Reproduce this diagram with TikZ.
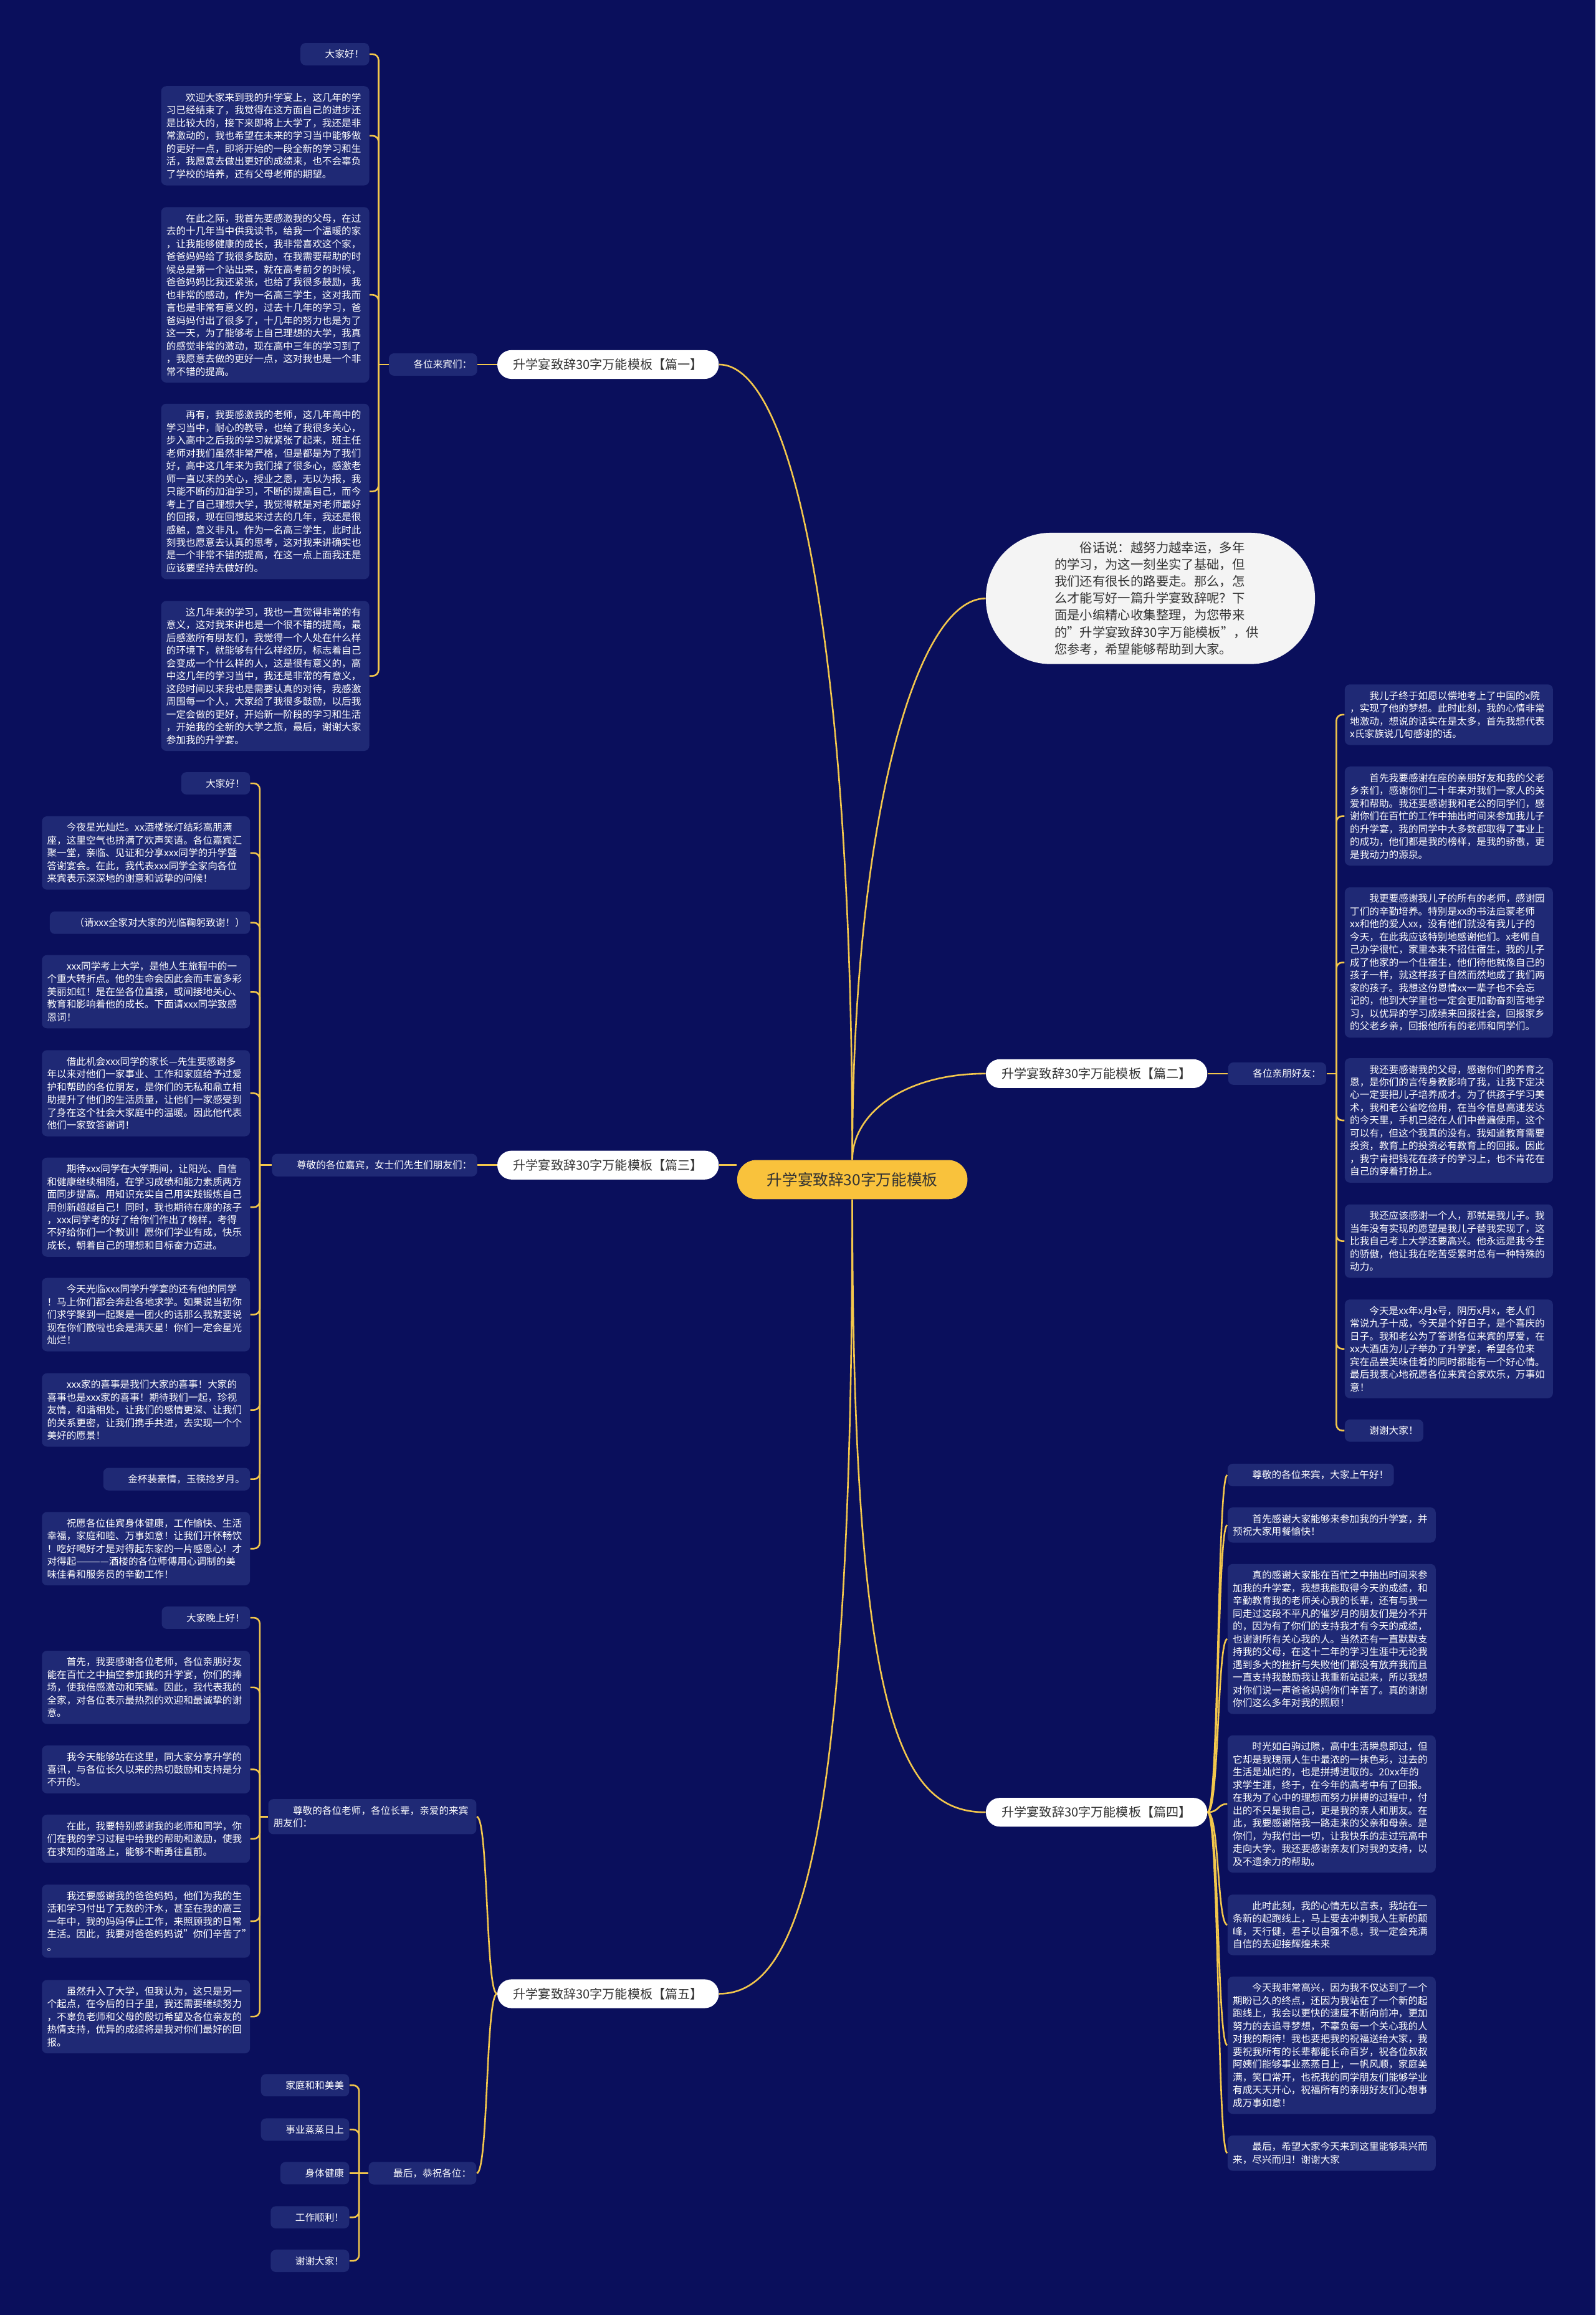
\documentclass[tikz,border=0pt]{standalone}
\usepackage{fontspec}
\setmainfont{Noto Sans CJK SC}
\usetikzlibrary{calc}
\definecolor{bgc}{HTML}{0A0F5C}
\definecolor{leafc}{HTML}{1F2975}
\definecolor{linec}{HTML}{F3C74C}
\definecolor{centc}{HTML}{F9C23C}
\definecolor{txtd}{HTML}{333333}
\definecolor{bubc}{HTML}{F4F4F4}
\pgfdeclarelayer{bglayer}
\pgfdeclarelayer{linelayer}
\pgfsetlayers{bglayer,linelayer,main}
\tikzset{
  leaf/.style={fill=leafc, text=white, rounded corners=3.5pt, inner xsep=3.5pt, inner ysep=4.5pt, font=\fontsize{6.6}{8.65}\selectfont, align=left},
  para/.style={leaf, text width=134pt},
  branch/.style={fill=white, text=txtd, rounded corners=9.5pt, minimum width=150pt, minimum height=19.5pt, inner sep=0pt, font=\fontsize{8.5}{10}\selectfont},
  cent/.style={fill=centc, text=txtd, rounded corners=13pt, minimum width=156pt, minimum height=26.5pt, inner sep=0pt, font=\fontsize{10.4}{12}\selectfont},
  bubble/.style={fill=bubc, text=txtd, rounded corners=44pt, minimum width=223pt, minimum height=89pt, text width=130pt, align=left, font=\fontsize{8.6}{11.45}\selectfont},
  conn/.style={draw=linec, line width=1.1pt},
  bracket/.style={conn, rounded corners=4pt},
}
\begin{document}
\begin{tikzpicture}[x=1pt,y=-1pt]
\useasboundingbox (0,0) rectangle (1081,1568.7);
\begin{pgfonlayer}{bglayer}
\fill[bgc] (0,0) rectangle (1081,1568.7);
\end{pgfonlayer}

% centre
\node[cent] (cen) at (577.5,799.3) {升学宴致辞30字万能模板};

% bubble
\node[bubble] (bub) at (779.5,405.5) {　　俗话说：越努力越幸运，多年\\的学习，为这一刻坐实了基础，但\\我们还有很长的路要走。那么，怎\\么才能写好一篇升学宴致辞呢？下\\面是小编精心收集整理，为您带来\\的"升学宴致辞30字万能模板"，供\\您参考，希望能够帮助到大家。};

% branches
\node[branch] (b1) at (412,247) {升学宴致辞30字万能模板【篇一】};
\node[branch] (b2) at (743,727.5) {升学宴致辞30字万能模板【篇二】};
\node[branch] (b3) at (412,789.5) {升学宴致辞30字万能模板【篇三】};
\node[branch] (b4) at (743,1228) {升学宴致辞30字万能模板【篇四】};
\node[branch] (b5) at (412,1351) {升学宴致辞30字万能模板【篇五】};

% ---------- branch 1
\node[leaf, anchor=east] (p1) at (323.5,247) {　　各位来宾们：};
\node[leaf, anchor=east] (l1a) at (250.4,36.7) {　　大家好！};
\node[para, anchor=east] (l1b) at (250.4,92) {　　欢迎大家来到我的升学宴上，这几年的学\\习已经结束了，我觉得在这方面自己的进步还\\是比较大的，接下来即将上大学了，我还是非\\常激动的，我也希望在未来的学习当中能够做\\的更好一点，即将开始的一段全新的学习和生\\活，我愿意去做出更好的成绩来，也不会辜负\\了学校的培养，还有父母老师的期望。};
\node[para, anchor=east] (l1c) at (250.4,199.8) {　　在此之际，我首先要感激我的父母，在过\\去的十几年当中供我读书，给我一个温暖的家\\，让我能够健康的成长，我非常喜欢这个家，\\爸爸妈妈给了我很多鼓励，在我需要帮助的时\\候总是第一个站出来，就在高考前夕的时候，\\爸爸妈妈比我还紧张，也给了我很多鼓励，我\\也非常的感动，作为一名高三学生，这对我而\\言也是非常有意义的，过去十几年的学习，爸\\爸妈妈付出了很多了，十几年的努力也是为了\\这一天，为了能够考上自己理想的大学，我真\\的感觉非常的激动，现在高中三年的学习到了\\，我愿意去做的更好一点，这对我也是一个非\\常不错的提高。};
\node[para, anchor=east] (l1d) at (250.4,333) {　　再有，我要感激我的老师，这几年高中的\\学习当中，耐心的教导，也给了我很多关心，\\步入高中之后我的学习就紧张了起来，班主任\\老师对我们虽然非常严格，但是都是为了我们\\好，高中这几年来为我们操了很多心，感激老\\师一直以来的关心，授业之恩，无以为报，我\\只能不断的加油学习，不断的提高自己，而今\\考上了自己理想大学，我觉得就是对老师最好\\的回报，现在回想起来过去的几年，我还是很\\感触，意义非凡，作为一名高三学生，此时此\\刻我也愿意去认真的思考，这对我来讲确实也\\是一个非常不错的提高，在这一点上面我还是\\应该要坚持去做好的。};
\node[para, anchor=east] (l1e) at (250.4,458) {　　这几年来的学习，我也一直觉得非常的有\\意义，这对我来讲也是一个很不错的提高，最\\后感激所有朋友们，我觉得一个人处在什么样\\的环境下，就能够有什么样经历，标志着自己\\会变成一个什么样的人，这是很有意义的，高\\中这几年的学习当中，我还是非常的有意义，\\这段时间以来我也是需要认真的对待，我感激\\周围每一个人，大家给了我很多鼓励，以后我\\一定会做的更好，开始新一阶段的学习和生活\\，开始我的全新的大学之旅，最后，谢谢大家\\参加我的升学宴。};

% ---------- branch 3
\node[leaf, anchor=east] (p3) at (323.5,789.5) {　　尊敬的各位嘉宾，女士们先生们朋友们：};
\node[leaf, anchor=east] (c3a) at (169.6,530.8) {　　大家好！};
\node[para, anchor=east] (c3b) at (169.6,578) {　　今夜星光灿烂。xx酒楼张灯结彩高朋满\\座，这里空气也挤满了欢声笑语。各位嘉宾汇\\聚一堂，亲临、见证和分享xxx同学的升学暨\\答谢宴会。在此，我代表xxx同学全家向各位\\来宾表示深深地的谢意和诚挚的问候！};
\node[leaf, anchor=east] (c3c) at (169.6,625.2) {　　（请xxx全家对大家的光临鞠躬致谢！）};
\node[para, anchor=east] (c3d) at (169.6,672) {　　xxx同学考上大学，是他人生旅程中的一\\个重大转折点。他的生命会因此会而丰富多彩\\美丽如虹！是在坐各位直接，或间接地关心、\\教育和影响着他的成长。下面请xxx同学致感\\恩词！};
\node[para, anchor=east] (c3e) at (169.6,740.8) {　　借此机会xxx同学的家长—先生要感谢多\\年以来对他们一家事业、工作和家庭给予过爱\\护和帮助的各位朋友，是你们的无私和鼎立相\\助提升了他们的生活质量，让他们一家感受到\\了身在这个社会大家庭中的温暖。因此他代表\\他们一家致答谢词！};
\node[para, anchor=east] (c3f) at (169.6,818) {　　期待xxx同学在大学期间，让阳光、自信\\和健康继续相随，在学习成绩和能力素质两方\\面同步提高。用知识充实自己用实践锻炼自己\\用创新超越自己！同时，我也期待在座的孩子\\，xxx同学考的好了给你们作出了榜样，考得\\不好给你们一个教训！愿你们学业有成，快乐\\成长，朝着自己的理想和目标奋力迈进。};
\node[para, anchor=east] (c3g) at (169.6,890.8) {　　今天光临xxx同学升学宴的还有他的同学\\！马上你们都会奔赴各地求学。如果说当初你\\们求学聚到一起聚是一团火的话那么我就要说\\现在你们散啦也会是满天星！你们一定会星光\\灿烂！};
\node[para, anchor=east] (c3h) at (169.6,955.4) {　　xxx家的喜事是我们大家的喜事！大家的\\喜事也是xxx家的喜事！期待我们一起，珍视\\友情，和谐相处，让我们的感情更深、让我们\\的关系更密，让我们携手共进，去实现一个个\\美好的愿景！};
\node[leaf, anchor=east] (c3i) at (169.6,1002.3) {　　金杯装豪情，玉筷捻岁月。};
\node[para, anchor=east] (c3j) at (169.6,1049.4) {　　祝愿各位佳宾身体健康，工作愉快、生活\\幸福，家庭和睦、万事如意！让我们开怀畅饮\\！吃好喝好才是对得起东家的一片感恩心！才\\对得起————酒楼的各位师傅用心调制的美\\味佳肴和服务员的辛勤工作！};

% ---------- branch 5
\node[para, anchor=east] (p5a) at (323,1231) {　　尊敬的各位老师，各位长辈，亲爱的来宾\\朋友们：};
\node[leaf, anchor=east] (p5b) at (323,1472.6) {　　最后，恭祝各位：};
\node[leaf, anchor=east] (c5a) at (169.6,1096.2) {　　大家晚上好！};
\node[para, anchor=east] (c5b) at (169.6,1143.4) {　　首先，我要感谢各位老师，各位亲朋好友\\能在百忙之中抽空参加我的升学宴，你们的捧\\场，使我倍感激动和荣耀。因此，我代表我的\\全家，对各位表示最热烈的欢迎和最诚挚的谢\\意。};
\node[para, anchor=east] (c5c) at (169.6,1199) {　　我今天能够站在这里，同大家分享升学的\\喜讯，与各位长久以来的热切鼓励和支持是分\\不开的。};
\node[para, anchor=east] (c5d) at (169.6,1246) {　　在此，我要特别感谢我的老师和同学，你\\们在我的学习过程中给我的帮助和激励，使我\\在求知的道路上，能够不断勇往直前。};
\node[para, anchor=east] (c5e) at (169.6,1301.8) {　　我还要感谢我的爸爸妈妈，他们为我的生\\活和学习付出了无数的汗水，甚至在我的高三\\一年中，我的妈妈停止工作，来照顾我的日常\\生活。因此，我要对爸爸妈妈说"你们辛苦了"\\。};
\node[para, anchor=east] (c5f) at (169.6,1366.5) {　　虽然升入了大学，但我认为，这只是另一\\个起点，在今后的日子里，我还需要继续努力\\，不辜负老师和父母的殷切希望及各位亲友的\\热情支持，优异的成绩将是我对你们最好的回\\报。};
\node[leaf, anchor=east] (g1) at (236.8,1413) {　　家庭和和美美};
\node[leaf, anchor=east] (g2) at (236.8,1443) {　　事业蒸蒸日上};
\node[leaf, anchor=east] (g3) at (236.8,1472.6) {　　身体健康};
\node[leaf, anchor=east] (g4) at (236.8,1502.5) {　　工作顺利！};
\node[leaf, anchor=east] (g5) at (236.8,1532) {　　谢谢大家！};

% ---------- branch 2
\node[leaf, anchor=west] (p2) at (832,727.5) {　　各位亲朋好友：};
\node[para, anchor=west] (e1) at (911,484.3) {　　我儿子终于如愿以偿地考上了中国的x院\\，实现了他的梦想。此时此刻，我的心情非常\\地激动，想说的话实在是太多，首先我想代表\\x氏家族说几句感谢的话。};
\node[para, anchor=west] (e2) at (911,553) {　　首先我要感谢在座的亲朋好友和我的父老\\乡亲们，感谢你们二十年来对我们一家人的关\\爱和帮助。我还要感谢我和老公的同学们，感\\谢你们在百忙的工作中抽出时间来参加我儿子\\的升学宴，我的同学中大多数都取得了事业上\\的成功，他们都是我的榜样，是我的骄傲，更\\是我动力的源泉。};
\node[para, anchor=west] (e3) at (911,652.2) {　　我更要感谢我儿子的所有的老师，感谢园\\丁们的辛勤培养。特别是xx的书法启蒙老师\\xx和他的爱人xx，没有他们就没有我儿子的\\今天，在此我应该特别地感谢他们。x老师自\\己办学很忙，家里本来不招住宿生，我的儿子\\成了他家的一个住宿生，他们待他就像自己的\\孩子一样，就这样孩子自然而然地成了我们两\\家的孩子。我想这份恩情xx一辈子也不会忘\\记的，他到大学里也一定会更加勤奋刻苦地学\\习，以优异的学习成绩来回报社会，回报家乡\\的父老乡亲，回报他所有的老师和同学们。};
\node[para, anchor=west] (e4) at (911,759.2) {　　我还要感谢我的父母，感谢你们的养育之\\恩，是你们的言传身教影响了我，让我下定决\\心一定要把儿子培养成才。为了供孩子学习美\\术，我和老公省吃俭用，在当今信息高速发达\\的今天里，手机已经在人们中普遍使用，这个\\可以有，但这个我真的没有。我知道教育需要\\投资，教育上的投资必有教育上的回报。因此\\，我宁肯把钱花在孩子的学习上，也不肯花在\\自己的穿着打扮上。};
\node[para, anchor=west] (e5) at (911,841) {　　我还应该感谢一个人，那就是我儿子。我\\当年没有实现的愿望是我儿子替我实现了，这\\比我自己考上大学还要高兴。他永远是我今生\\的骄傲，他让我在吃苦受累时总有一种特殊的\\动力。};
\node[para, anchor=west] (e6) at (911,914) {　　今天是xx年x月x号，阴历x月x，老人们\\常说九子十成，今天是个好日子，是个喜庆的\\日子。我和老公为了答谢各位来宾的厚爱，在\\xx大酒店为儿子举办了升学宴，希望各位来\\宾在品尝美味佳肴的同时都能有一个好心情。\\最后我衷心地祝愿各位来宾合家欢乐，万事如\\意！};
\node[leaf, anchor=west] (e7) at (911,969.4) {　　谢谢大家！};

% ---------- branch 4
\node[leaf, anchor=west] (d1) at (831.6,999.5) {　　尊敬的各位来宾，大家上午好！};
\node[para, anchor=west] (d2) at (831.6,1033.4) {　　首先感谢大家能够来参加我的升学宴，并\\预祝大家用餐愉快！};
\node[para, anchor=west] (d3) at (831.6,1110.6) {　　真的感谢大家能在百忙之中抽出时间来参\\加我的升学宴，我想我能取得今天的成绩，和\\辛勤教育我的老师关心我的长辈，还有与我一\\同走过这段不平凡的催岁月的朋友们是分不开\\的，因为有了你们的支持我才有今天的成绩，\\也谢谢所有关心我的人。当然还有一直默默支\\持我的父母，在这十二年的学习生涯中无论我\\遇到多大的挫折与失败他们都没有放弃我而且\\一直支持我鼓励我让我重新站起来，所以我想\\对你们说一声爸爸妈妈你们辛苦了。真的谢谢\\你们这么多年对我的照顾！};
\node[para, anchor=west] (d4) at (831.6,1222.4) {　　时光如白驹过隙，高中生活瞬息即过，但\\它却是我瑰丽人生中最浓的一抹色彩，过去的\\生活是灿烂的，也是拼搏进取的。20xx年的\\求学生涯，终于，在今年的高考中有了回报。\\在我为了心中的理想而努力拼搏的过程中，付\\出的不只是我自己，更是我的亲人和朋友。在\\此，我要感谢陪我一路走来的父亲和母亲。是\\你们，为我付出一切，让我快乐的走过完高中\\走向大学。我还要感谢亲友们对我的支持，以\\及不遗余力的帮助。};
\node[para, anchor=west] (d5) at (831.6,1304.3) {　　此时此刻，我的心情无以言表，我站在一\\条新的起跑线上，马上要去冲刺我人生新的颠\\峰，天行健，君子以自强不息，我一定会充满\\自信的去迎接辉煌未来};
\node[para, anchor=west] (d6) at (831.6,1385.9) {　　今天我非常高兴，因为我不仅达到了一个\\期盼已久的终点，还因为我站在了一个新的起\\跑线上，我会以更快的速度不断向前冲，更加\\努力的去追寻梦想，不辜负每一个关心我的人\\对我的期待！我也要把我的祝福送给大家，我\\要祝我所有的长辈都能长命百岁，祝各位叔叔\\阿姨们能够事业蒸蒸日上，一帆风顺，家庭美\\满，笑口常开，也祝我的同学朋友们能够学业\\有成天天开心，祝福所有的亲朋好友们心想事\\成万事如意！};
\node[para, anchor=west] (d7) at (831.6,1459) {　　最后，希望大家今天来到这里能够乘兴而\\来，尽兴而归！谢谢大家};

% ---------- connectors
\begin{pgfonlayer}{linelayer}
\draw[conn] (cen.north) .. controls (577.5,450) and (540,247) .. (b1.east);
\draw[conn] (cen.north) .. controls (577.5,560) and (620,405.5) .. (bub.west);
\draw[conn] (cen.north) .. controls (577.5,755) and (612,727.5) .. (b2.west);
\draw[conn] (b3.east) -- (b3.east -| cen.west);
\draw[conn] (cen.south) .. controls (577.5,1170) and (612,1228) .. (b4.west);
\draw[conn] (cen.south) .. controls (577.5,1260) and (540,1351) .. (b5.east);

% branch 1
\draw[conn] (b1.west) -- (p1.east);
\coordinate (s1) at (256.5,247);
\draw[conn] (p1.west) -- (s1);
\foreach \n in {l1a,l1b,l1c,l1d,l1e} \draw[bracket] (s1) |- (\n.east);

% branch 3
\draw[conn] (b3.west) -- (p3.east);
\coordinate (s3) at (176,789.5);
\draw[conn] (p3.west) -- (s3);
\foreach \n in {c3a,c3b,c3c,c3d,c3e,c3f,c3g,c3h,c3i,c3j} \draw[bracket] (s3) |- (\n.east);

% branch 5
\draw[conn] (b5.west) .. controls (329,1351) and (331,1231) .. (p5a.east);
\draw[conn] (b5.west) .. controls (329,1351) and (331,1472.6) .. (p5b.east);
\coordinate (s5a) at (176,1231);
\draw[conn] (p5a.west) -- (s5a);
\foreach \n in {c5a,c5b,c5c,c5d,c5e,c5f} \draw[bracket] (s5a) |- (\n.east);
\coordinate (s5b) at (243.3,1472.6);
\draw[conn] (p5b.west) -- (g3.east);
\foreach \n in {g1,g2,g4,g5} \draw[bracket] (s5b) |- (\n.east);

% branch 2
\draw[conn] (b2.east) -- (p2.west);
\coordinate (s2) at (905.5,727.5);
\draw[conn] (p2.east) -- (s2);
\foreach \n in {e1,e2,e3,e4,e5,e6,e7} \draw[bracket] (s2) |- (\n.west);

% branch 4
\foreach \n in {d1,d2,d3,d4,d5,d6,d7}
  \draw[conn] (b4.east) .. controls ($(b4.east)+(8,0)$) and ($(\n.west)+(-7,0)$) .. (\n.west);
\end{pgfonlayer}
\end{tikzpicture}
\end{document}
